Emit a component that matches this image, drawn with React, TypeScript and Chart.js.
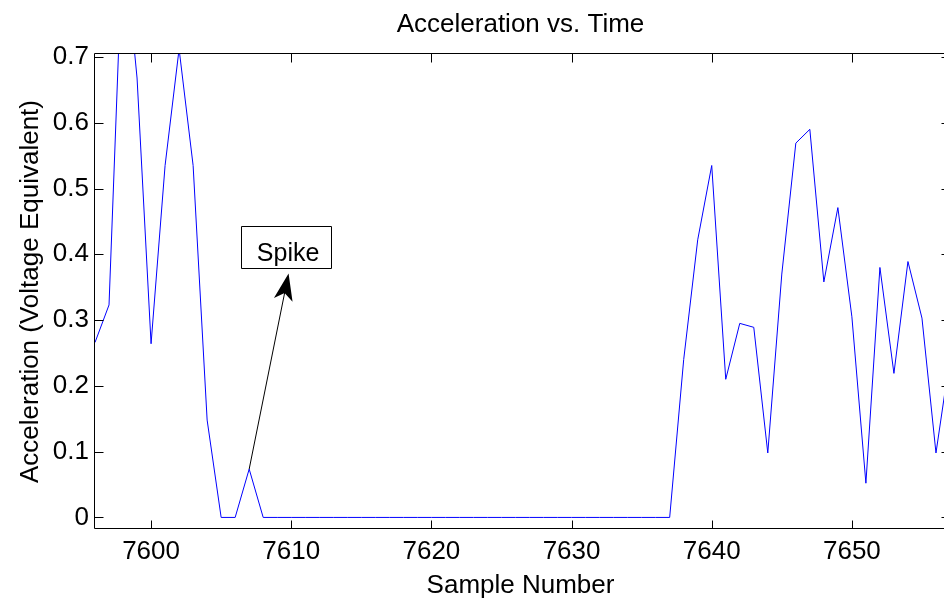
import React, { useEffect, useRef } from "react";
import { Chart, registerables } from "chart.js";

Chart.register(...registerables);

// ---------- data ----------
const SAMPLES = [
  7596, 7597, 7598, 7599, 7600, 7601, 7602, 7603, 7604, 7605,
  7606, 7607, 7608, 7609, 7610, 7611, 7612, 7613, 7614, 7615,
  7616, 7617, 7618, 7619, 7620, 7621, 7622, 7623, 7624, 7625,
  7626, 7627, 7628, 7629, 7630, 7631, 7632, 7633, 7634, 7635,
  7636, 7637, 7638, 7639, 7640, 7641, 7642, 7643, 7644, 7645,
  7646, 7647, 7648, 7649, 7650, 7651, 7652, 7653, 7654, 7655,
  7656, 7657,
];

const ACCELERATION = [
  0.266, 0.323, 0.89, 0.668, 0.264, 0.535, 0.712, 0.535, 0.148, 0,
  0, 0.0735, 0, 0, 0, 0, 0, 0, 0, 0,
  0, 0, 0, 0, 0, 0, 0, 0, 0, 0,
  0, 0, 0, 0, 0, 0, 0, 0, 0, 0,
  0, 0, 0.24, 0.422, 0.535, 0.21, 0.295, 0.289, 0.098, 0.37,
  0.569, 0.59, 0.358, 0.471, 0.305, 0.052, 0.38, 0.219, 0.389, 0.303,
  0.098, 0.243,
];

const X_TICKS = [7600, 7610, 7620, 7630, 7640, 7650];
const X_TICK_LABELS = ["7600", "7610", "7620", "7630", "7640", "7650"];
const Y_TICKS = [0, 0.1, 0.2, 0.3, 0.4, 0.5, 0.6, 0.7];
const Y_TICK_LABELS = ["0", "0.1", "0.2", "0.3", "0.4", "0.5", "0.6", "0.7"];
const X_LIMITS = [7596, 7657];
const Y_LIMITS = [-0.0176, 0.7045];

const TITLE = "Acceleration vs. Time";
const X_TITLE = "Sample Number";
const Y_TITLE = "Acceleration (Voltage Equivalent)";

// annotation (data coordinates)
const SPIKE_TEXT = "Spike";
const SPIKE_TAIL = [7607, 0.0735];
const SPIKE_TIP = [7609.81, 0.371];
const SPIKE_BOX_X = [7606.44, 7612.83];
const SPIKE_BOX_Y = [0.3802, 0.4434];

const FONT = "'Liberation Sans', Arial, Helvetica, sans-serif";

const framePlugin = {
  id: "matlabFrame",
  afterDraw(chart: any) {
    const { ctx, chartArea, scales } = chart;
    const { left, right, top, bottom } = chartArea;
    const xs = scales.x;
    const ys = scales.y;
    ctx.save();

    // frame
    ctx.strokeStyle = "#000";
    ctx.lineWidth = 1;
    ctx.beginPath();
    ctx.rect(Math.round(left) - 0.5, Math.round(top) - 0.5, Math.round(right - left), Math.round(bottom - top));
    ctx.stroke();

    // inward ticks
    const tl = 8.5;
    ctx.beginPath();
    X_TICKS.forEach((v) => {
      const px = Math.round(xs.getPixelForValue(v)) + 0.5;
      ctx.moveTo(px, bottom);
      ctx.lineTo(px, bottom - tl);
      ctx.moveTo(px, top);
      ctx.lineTo(px, top + tl);
    });
    Y_TICKS.forEach((v) => {
      const py = Math.round(ys.getPixelForValue(v)) + 0.5;
      ctx.moveTo(left, py);
      ctx.lineTo(left + tl, py);
      ctx.moveTo(right, py);
      ctx.lineTo(right - tl, py);
    });
    ctx.stroke();

    // titles
    ctx.fillStyle = "#000";
    ctx.font = `26px ${FONT}`;
    ctx.textAlign = "center";
    ctx.textBaseline = "alphabetic";
    const cx = (left + right) / 2 - 2;
    ctx.fillText(TITLE, cx, 32);
    ctx.fillText(X_TITLE, cx, 593);
    ctx.save();
    ctx.translate(37.5, (top + bottom) / 2);
    ctx.rotate(-Math.PI / 2);
    ctx.fillText(Y_TITLE, 0, 0);
    ctx.restore();

    // annotation box + text
    const bx0 = xs.getPixelForValue(SPIKE_BOX_X[0]);
    const bx1 = xs.getPixelForValue(SPIKE_BOX_X[1]);
    const by0 = ys.getPixelForValue(SPIKE_BOX_Y[1]);
    const by1 = ys.getPixelForValue(SPIKE_BOX_Y[0]);
    ctx.beginPath();
    ctx.rect(Math.round(bx0) + 0.5, Math.round(by0) + 0.5, Math.round(bx1 - bx0), Math.round(by1 - by0));
    ctx.stroke();
    ctx.font = `25px ${FONT}`;
    ctx.fillText(SPIKE_TEXT, (bx0 + bx1) / 2 + 2, by1 - 6);

    // arrow
    const tx = xs.getPixelForValue(SPIKE_TAIL[0]);
    const ty = ys.getPixelForValue(SPIKE_TAIL[1]);
    const hx = xs.getPixelForValue(SPIKE_TIP[0]);
    const hy = ys.getPixelForValue(SPIKE_TIP[1]);
    const ang = Math.atan2(hy - ty, hx - tx);
    const L = 27;
    const W = 9.5;
    const notch = 20;
    const ux = Math.cos(ang);
    const uy = Math.sin(ang);
    const nx = -uy;
    const ny = ux;
    ctx.beginPath();
    ctx.moveTo(tx, ty);
    ctx.lineTo(hx - ux * notch, hy - uy * notch);
    ctx.stroke();
    ctx.beginPath();
    ctx.moveTo(hx, hy);
    ctx.lineTo(hx - ux * L + nx * W, hy - uy * L + ny * W);
    ctx.lineTo(hx - ux * notch, hy - uy * notch);
    ctx.lineTo(hx - ux * L - nx * W, hy - uy * L - ny * W);
    ctx.closePath();
    ctx.fillStyle = "#000";
    ctx.fill();

    ctx.restore();
  },
};

export default function App() {
  const ref = useRef<HTMLCanvasElement | null>(null);

  useEffect(() => {
    const canvas = ref.current;
    if (!canvas) return;
    const points = SAMPLES.map((s, i) => ({ x: s, y: ACCELERATION[i] }));
    const chart = new Chart(canvas, {
      type: "line",
      data: {
        datasets: [
          {
            data: points,
            borderColor: "rgb(0,0,255)",
            borderWidth: 1,
            pointRadius: 0,
            tension: 0,
            fill: false,
          },
        ],
      },
      options: {
        animation: false,
        responsive: false,
        devicePixelRatio: 1,
        layout: { padding: { top: 54, right: 2, left: 0, bottom: 0 } },
        plugins: {
          legend: { display: false },
          title: { display: false },
          tooltip: { enabled: false },
        },
        scales: {
          x: {
            type: "linear",
            min: X_LIMITS[0],
            max: X_LIMITS[1],
            grid: { display: false, drawTicks: false },
            border: { display: false },
            afterBuildTicks: (axis: any) => {
              axis.ticks = X_TICKS.map((v) => ({ value: v }));
            },
            afterFit: (axis: any) => {
              axis.height = 72;
            },
            ticks: {
              autoSkip: false,
              maxRotation: 0,
              padding: 7,
              color: "#000",
              font: { family: FONT, size: 26 },
              callback: (_v: any, i: number) => X_TICK_LABELS[i],
            },
          },
          y: {
            type: "linear",
            min: Y_LIMITS[0],
            max: Y_LIMITS[1],
            grid: { display: false, drawTicks: false },
            border: { display: false },
            afterBuildTicks: (axis: any) => {
              axis.ticks = Y_TICKS.map((v) => ({ value: v }));
            },
            afterFit: (axis: any) => {
              axis.width = 95;
            },
            ticks: {
              autoSkip: false,
              padding: 6,
              color: "#000",
              font: { family: FONT, size: 26 },
              callback: (_v: any, i: number) => Y_TICK_LABELS[i],
            },
          },
        },
      },
      plugins: [framePlugin],
    });
    return () => chart.destroy();
  }, []);

  return (
    <div style={{ position: "fixed", left: 0, top: 0, width: 952, height: 601, background: "#fff" }}>
      <canvas ref={ref} width={952} height={601} style={{ display: "block" }} />
    </div>
  );
}
